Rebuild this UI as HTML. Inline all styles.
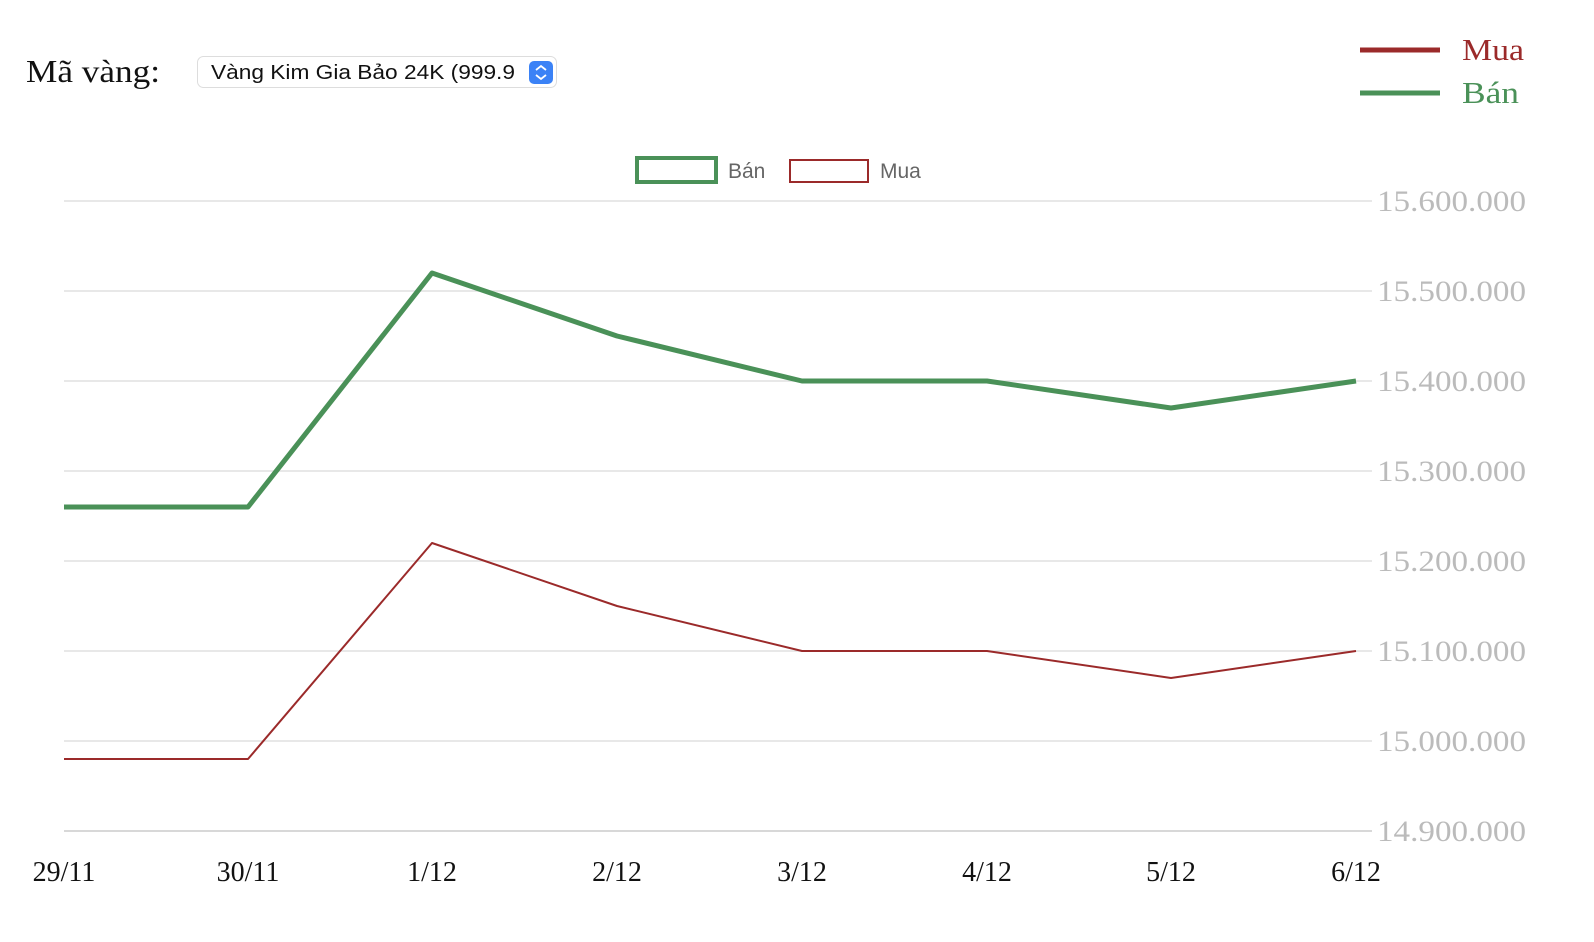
<!DOCTYPE html>
<html><head><meta charset="utf-8"><style>
html,body{margin:0;padding:0;background:#fff;width:1594px;height:942px;overflow:hidden}
</style></head><body>
<svg width="1594" height="942" xmlns="http://www.w3.org/2000/svg">
<text x="26" y="82" font-family="Liberation Serif, serif" font-size="32" fill="#111" textLength="134" lengthAdjust="spacingAndGlyphs">Mã vàng:</text>
<rect x="197.5" y="56.5" width="359" height="31" rx="6" fill="#fff" stroke="#ddd"/>
<text x="211" y="79" font-family="Liberation Sans, sans-serif" font-size="20" fill="#111" textLength="304" lengthAdjust="spacingAndGlyphs">Vàng Kim Gia Bảo 24K (999.9</text>
<rect x="529" y="61" width="24" height="23" rx="5" fill="#3b82f6"/>
<path d="M536 70 l5 -4 l5 4 M536 75 l5 4 l5 -4" stroke="#fff" stroke-width="1.8" fill="none"/>
<line x1="1360" y1="50" x2="1440" y2="50" stroke="#9b2a2a" stroke-width="5"/>
<text x="1462" y="60" font-family="Liberation Serif, serif" font-size="31" fill="#9b2a2a" textLength="62" lengthAdjust="spacingAndGlyphs">Mua</text>
<line x1="1360" y1="93" x2="1440" y2="93" stroke="#4a9158" stroke-width="5"/>
<text x="1462" y="103" font-family="Liberation Serif, serif" font-size="31" fill="#4a9158" textLength="57" lengthAdjust="spacingAndGlyphs">Bán</text>
<rect x="637" y="158" width="79" height="24" fill="#fff" stroke="#4a9158" stroke-width="4"/>
<text x="728" y="178" font-family="Liberation Sans, sans-serif" font-size="21" fill="#666">Bán</text>
<rect x="790" y="160" width="78" height="22" fill="#fff" stroke="#9b2a2a" stroke-width="2"/>
<text x="880" y="178" font-family="Liberation Sans, sans-serif" font-size="21" fill="#666">Mua</text>
<g stroke="#e0e0e0" stroke-width="1.5">
<line x1="64" y1="201" x2="1372" y2="201"/><line x1="64" y1="291" x2="1372" y2="291"/>
<line x1="64" y1="381" x2="1372" y2="381"/><line x1="64" y1="471" x2="1372" y2="471"/>
<line x1="64" y1="561" x2="1372" y2="561"/><line x1="64" y1="651" x2="1372" y2="651"/>
<line x1="64" y1="741" x2="1372" y2="741"/>
</g>
<line x1="64" y1="831" x2="1372" y2="831" stroke="#ccc" stroke-width="1.5"/>
<g font-family="Liberation Serif, serif" font-size="30" fill="#bbb">
<text x="1377" y="211" textLength="149" lengthAdjust="spacingAndGlyphs">15.600.000</text><text x="1377" y="301" textLength="149" lengthAdjust="spacingAndGlyphs">15.500.000</text>
<text x="1377" y="391" textLength="149" lengthAdjust="spacingAndGlyphs">15.400.000</text><text x="1377" y="481" textLength="149" lengthAdjust="spacingAndGlyphs">15.300.000</text>
<text x="1377" y="571" textLength="149" lengthAdjust="spacingAndGlyphs">15.200.000</text><text x="1377" y="661" textLength="149" lengthAdjust="spacingAndGlyphs">15.100.000</text>
<text x="1377" y="751" textLength="149" lengthAdjust="spacingAndGlyphs">15.000.000</text><text x="1377" y="841" textLength="149" lengthAdjust="spacingAndGlyphs">14.900.000</text>
</g>
<g font-family="Liberation Serif, serif" font-size="28" fill="#111" text-anchor="middle">
<text x="64" y="881">29/11</text><text x="248" y="881">30/11</text><text x="432" y="881">1/12</text>
<text x="617" y="881">2/12</text><text x="802" y="881">3/12</text><text x="987" y="881">4/12</text>
<text x="1171" y="881">5/12</text><text x="1356" y="881">6/12</text>
</g>
<polyline points="64,507 248,507 432,273 617,336 802,381 987,381 1171,408 1356,381" fill="none" stroke="#4a9158" stroke-width="5" stroke-linejoin="round"/>
<polyline points="64,759 248,759 432,543 617,606 802,651 987,651 1171,678 1356,651" fill="none" stroke="#9b2a2a" stroke-width="2" stroke-linejoin="round"/>
</svg>
</body></html>
